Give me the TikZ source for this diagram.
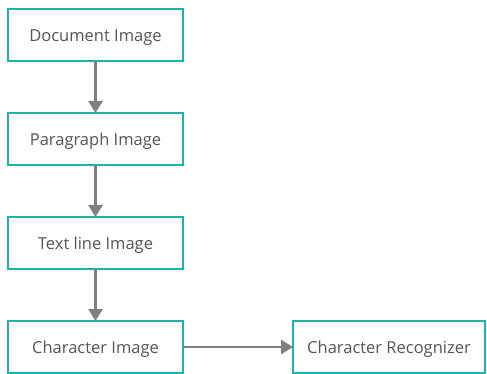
\documentclass[tikz,border=0pt]{standalone}
\usepackage{fontspec}
\setmainfont{Open Sans}
\usetikzlibrary{arrows.meta,positioning}
\definecolor{BoxTeal}{RGB}{32,178,170}
\definecolor{ArrowGray}{RGB}{128,128,128}
\definecolor{TextGray}{RGB}{85,85,85}
\tikzset{
  stagebox/.style={draw=BoxTeal,line width=1.8pt,fill=white,outer sep=0pt,
    minimum width=175pt,minimum height=52pt,align=center,
    text=TextGray,font=\fontsize{16.5}{19}\selectfont,
    text depth=0pt,text height=13pt},
  flowarrow/.style={-{Triangle[length=12pt,width=14pt]},
    line width=2.6pt,draw=ArrowGray},
}

\begin{document}
\begin{tikzpicture}[node distance=52pt]
  \useasboundingbox (0pt,0pt) rectangle (487pt,-374pt);
  \node[stagebox] (doc) at (95.5pt,-35pt) {Document Image};
  \node[stagebox,below=of doc] (para) {Paragraph Image};
  \node[stagebox,below=of para] (line) {Text line Image};
  \node[stagebox,below=of line] (char) {Character Image};
  \node[stagebox,minimum width=192pt,right=110pt of char] (recog) {Character Recognizer};
  \draw[flowarrow] (doc) -- (para);
  \draw[flowarrow] (para) -- (line);
  \draw[flowarrow] (line) -- (char);
  \draw[flowarrow] (char) -- (recog);
\end{tikzpicture}
\end{document}
